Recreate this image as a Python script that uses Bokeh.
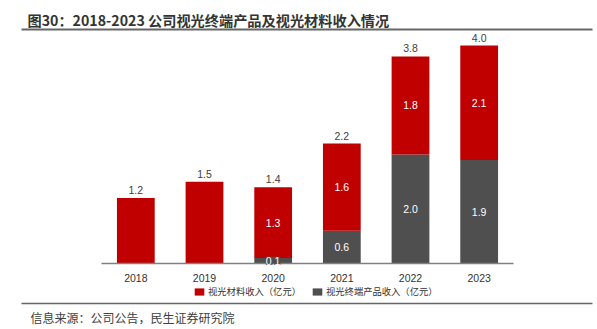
from bokeh.plotting import figure
from bokeh.models import ColumnDataSource, Range1d, LabelSet, Legend, LegendItem
from bokeh.core.properties import value
from bokeh.embed import file_html
from bokeh.resources import INLINE

# ---------------- data ----------------
years = ["2018", "2019", "2020", "2021", "2022", "2023"]
material = [1.2, 1.5, 1.3, 1.6, 1.8, 2.1]      # 视光材料收入（亿元）
terminal = [0.0, 0.0, 0.1, 0.6, 2.0, 1.9]      # 视光终端产品收入（亿元）
totals = [1.2, 1.5, 1.4, 2.2, 3.8, 4.0]
title_text = "图30：2018-2023 公司视光终端产品及视光材料收入情况"
source_text = "信息来源：公司公告，民生证券研究院"
legend_labels = ["视光材料收入（亿元）", "视光终端产品收入（亿元）"]

# ---------------- style / layout ----------------
W, H = 597, 329
RED = "#C00000"
GRAY = "#4F4F4F"
CJK = "Noto Sans CJK SC"
NUM = "Liberation Sans"

n = len(years)
idx = list(range(n))
left_px, right_px, base_px, ppu = 101, 513, 263, 54.5
step = (right_px - left_px) / n
x0 = -0.5 - left_px / step
x1 = x0 + W / step
y1 = base_px / ppu
y0 = -(H - base_px) / ppu

p = figure(width=W, height=H, x_range=Range1d(x0, x1), y_range=Range1d(y0, y1),
           output_backend="svg", toolbar_location=None,
           x_axis_location=None, y_axis_location=None, min_border=0,
           outline_line_color=None, background_fill_color="white",
           border_fill_color="white")
p.grid.visible = False
p.extra_x_ranges = {"px": Range1d(0, W)}
p.extra_y_ranges = {"px": Range1d(H, 0)}

src = ColumnDataSource(dict(idx=idx, years=years, terminal=terminal,
                            material=material, totals=totals,
                            totals_s=[f"{v:.1f}" for v in totals]))

rs = p.vbar_stack(["terminal", "material"], x="idx", width=0.55,
                  color=[GRAY, RED], line_color=None, source=src)

# axis baseline
p.segment(x0=[-0.5], y0=[0], x1=[n - 0.5], y1=[0], line_color="#808080", line_width=1.5)

# year tick labels
p.text(x="idx", y=0, text="years", source=src, y_offset=14,
       text_align="center", text_baseline="middle",
       text_font=value(NUM), text_font_size="10.5px", text_color="#333333")

# total labels
p.text(x="idx", y="totals", text="totals_s", source=src, y_offset=-8,
       text_align="center", text_baseline="middle",
       text_font=value(NUM), text_font_size="10.5px", text_color="#404040")

# inner labels (only where terminal segment exists)
sel = [i for i in idx if terminal[i] > 0]
t_src = ColumnDataSource(dict(x=[idx[i] for i in sel],
                              y=[terminal[i] / 2 for i in sel],
                              t=[f"{terminal[i]:.1f}" for i in sel]))
m_src = ColumnDataSource(dict(x=[idx[i] for i in sel],
                              y=[terminal[i] + material[i] / 2 for i in sel],
                              t=[f"{material[i]:.1f}" for i in sel]))
p.add_layout(LabelSet(x="x", y="y", text="t", source=t_src, text_align="center",
                      text_baseline="middle", text_font=value(NUM), text_font_size="10.5px",
                      text_color="white", background_fill_color=GRAY))
p.add_layout(LabelSet(x="x", y="y", text="t", source=m_src, text_align="center",
                      text_baseline="middle", text_font=value(NUM), text_font_size="10.5px",
                      text_color="white"))

# title, rules, source
p.text(x=[27], y=[19], text=[title_text], x_range_name="px", y_range_name="px",
       text_font=value(CJK), text_font_style="bold", text_font_size="14.2px",
       text_color="#333333", text_baseline="middle")
p.segment(x0=[21], y0=[29], x1=[592], y1=[29], x_range_name="px", y_range_name="px",
          line_color="#666666", line_width=2)
p.segment(x0=[21], y0=[303], x1=[592], y1=[303], x_range_name="px", y_range_name="px",
          line_color="#666666", line_width=1.5)
p.text(x=[30], y=[317], text=[source_text], x_range_name="px", y_range_name="px",
       text_font=value(CJK), text_font_size="12px", text_color="#404040",
       text_baseline="middle")

legend = Legend(items=[LegendItem(label=legend_labels[0], renderers=[rs[1]]),
                       LegendItem(label=legend_labels[1], renderers=[rs[0]])],
                orientation="horizontal", location=(193, 31),
                glyph_width=12, glyph_height=9, label_standoff=3, spacing=10,
                padding=0, margin=0, border_line_color=None, background_fill_alpha=0,
                label_text_font=CJK, label_text_font_size="9.3px",
                label_text_color="#333333", label_height=10)
p.add_layout(legend)

open("out.html", "w").write(file_html(p, INLINE))
